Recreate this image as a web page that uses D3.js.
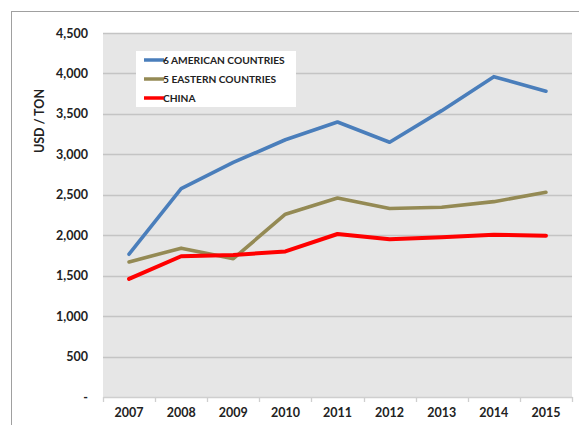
<!DOCTYPE html>
<html><head><meta charset="utf-8">
<script src="https://cdn.jsdelivr.net/npm/d3@7"></script>
<style>body{margin:0;background:#fff;} svg{display:block;font-family:Lato,"Open Sans",sans-serif;}</style>
</head><body>
<svg id="c" width="579" height="425"></svg>
<script>
const years = ["2007","2008","2009","2010","2011","2012","2013","2014","2015"];
const american = [1765,2575,2900,3180,3400,3150,3540,3960,3780];
const eastern = [1670,1840,1710,2260,2460,2330,2345,2415,2530];
const china = [1460,1740,1755,1800,2015,1950,1975,2005,1995];
const yTicks = [0,500,1000,1500,2000,2500,3000,3500,4000,4500];
const seriesNames = ["6 AMERICAN COUNTRIES","5 EASTERN COUNTRIES","CHINA"];
const seriesColors = ["#4a7ebb","#948a54","#ff0000"];

const svg = d3.select("#c");
const L=103, R=572, T=33, B=397;
const x = d3.scaleBand().domain(years).range([L,R]);
const y = d3.scaleLinear().domain([0,4500]).range([B,T]);

// outer frame
svg.append("line").attr("x1",11).attr("x2",579).attr("y1",11.5).attr("y2",11.5).attr("stroke","#a0a0a0");
svg.append("line").attr("x1",11.5).attr("x2",11.5).attr("y1",11).attr("y2",425).attr("stroke","#a0a0a0");

svg.append("rect").attr("x",L).attr("y",T).attr("width",R-L).attr("height",B-T).attr("fill","#e6e6e6");

// grid
svg.append("g").selectAll("line").data(yTicks.filter(d=>d>0)).join("line")
  .attr("x1",L).attr("x2",R).attr("y1",d=>Math.round(y(d))+0.5).attr("y2",d=>Math.round(y(d))+0.5)
  .attr("stroke","#c4c4c4").attr("stroke-width",1.3);

// y axis labels
const yAxis = d3.axisLeft(y).tickValues(yTicks).tickSize(0).tickPadding(15)
  .tickFormat(d=> d===0 ? "-" : d3.format(",")(d));
const gy = svg.append("g").attr("transform",`translate(${L},0)`).call(yAxis);
gy.select(".domain").remove();
gy.selectAll("text").attr("font-size",12.5).attr("font-weight","bold").attr("fill","#222").attr("font-family","Lato,sans-serif");

// x axis
const xAxis = d3.axisBottom(x).tickSize(0).tickPadding(11);
const gx = svg.append("g").attr("transform",`translate(0,${B})`).call(xAxis);
gx.select(".domain").attr("stroke","#cfcfcf").attr("stroke-width",1.3);
gx.selectAll("text").attr("font-size",12.5).attr("font-weight","bold").attr("fill","#222").attr("font-family","Lato,sans-serif");
svg.append("g").selectAll("line").data(years.concat(["end"])).join("line")
  .attr("x1",(d,i)=>Math.round(L+i*x.bandwidth())+0.5).attr("x2",(d,i)=>Math.round(L+i*x.bandwidth())+0.5)
  .attr("y1",B).attr("y2",B+5).attr("stroke","#cfcfcf").attr("stroke-width",1.3);

// y title
svg.append("text").attr("transform","translate(44,121) rotate(-90)").attr("text-anchor","middle")
  .attr("font-size",12.5).attr("font-weight","bold").attr("fill","#222").text("USD / TON");

// lines
const line = d3.line().x((d,i)=>x(years[i])+x.bandwidth()/2).y(d=>y(d));
[american,eastern,china].forEach((s,k)=>{
  svg.append("path").datum(s).attr("d",line).attr("fill","none")
    .attr("stroke",seriesColors[k]).attr("stroke-width",k===2?4:3.6)
    .attr("stroke-linejoin","round").attr("stroke-linecap","round");
});

// legend
const lg = svg.append("g");
lg.append("rect").attr("x",136).attr("y",51).attr("width",160).attr("height",56).attr("fill","#fff");
seriesNames.forEach((n,i)=>{
  const yy = 60 + i*19;
  lg.append("line").attr("x1",144).attr("x2",164).attr("y1",yy).attr("y2",yy)
    .attr("stroke",seriesColors[i]).attr("stroke-width",3.5);
  lg.append("text").attr("x",163).attr("y",yy).attr("dy","0.35em").attr("font-size",10.2)
    .attr("font-weight","bold").attr("fill","#222").text(n);
});
</script>
</body></html>
